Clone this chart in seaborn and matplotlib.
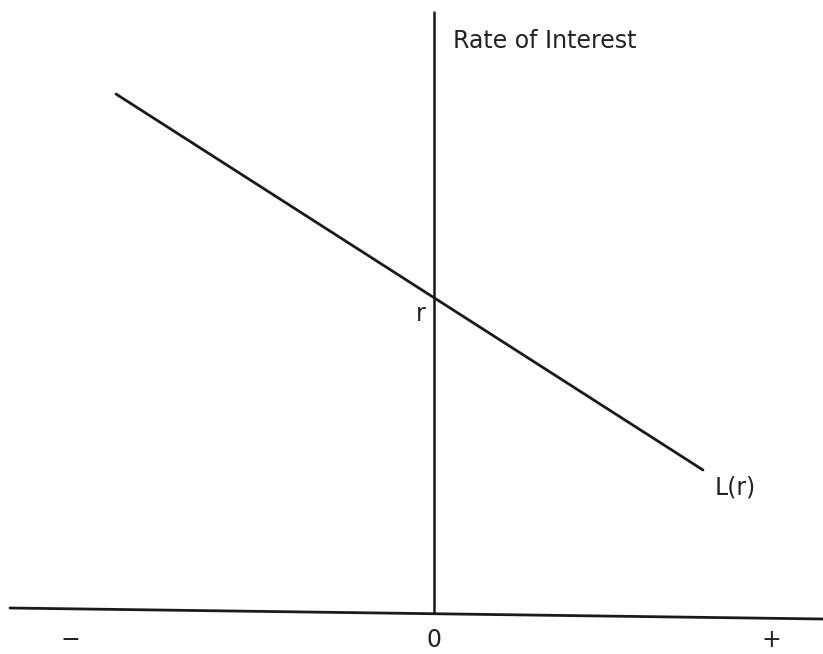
import matplotlib
matplotlib.use("Agg")
import matplotlib.pyplot as plt
import seaborn as sns
import pandas as pd

# liquidity preference schedule L(r), origin at the axes crossing
schedule_x = [-318, 269]
schedule_y = [518, 142]

# axes of the diagram (horizontal one is slightly skewed in the scan)
h_axis_x = [-424, 389]
h_axis_y = [4, -7]
v_axis_x = [0, 0]
v_axis_y = [0, 600]

sign_labels = ["\u2212", "0", "+"]
sign_x = [-364, 0, 337]

sns.set_style("white")
plt.rcParams["font.family"] = ["DejaVu Sans"]

fig = plt.figure(figsize=(8.23, 6.54), dpi=100)
ax = fig.add_axes([0, 0, 1, 1])

df = pd.DataFrame({"x": schedule_x, "y": schedule_y})
sns.lineplot(data=df, x="x", y="y", ax=ax, color="#1a1a1a", linewidth=2.0)
ax.plot(h_axis_x, h_axis_y, color="#1a1a1a", linewidth=2.0)
ax.plot(v_axis_x, v_axis_y, color="#1a1a1a", linewidth=1.8)

ax.text(19, 571, "Rate of Interest", fontsize=17, ha="left", va="center", color="#222222")
ax.text(-13, 298, "r", fontsize=17, ha="center", va="center", color="#222222")
ax.text(281, 124, "L(r)", fontsize=17, ha="left", va="center", color="#222222")
for lab, xx in zip(sign_labels, sign_x):
    ax.text(xx, -28, lab, fontsize=17, ha="center", va="center", color="#222222")

ax.set_xlim(-434, 389)
ax.set_ylim(-42, 612)
ax.axis("off")

fig.savefig("out.png", dpi=100)
